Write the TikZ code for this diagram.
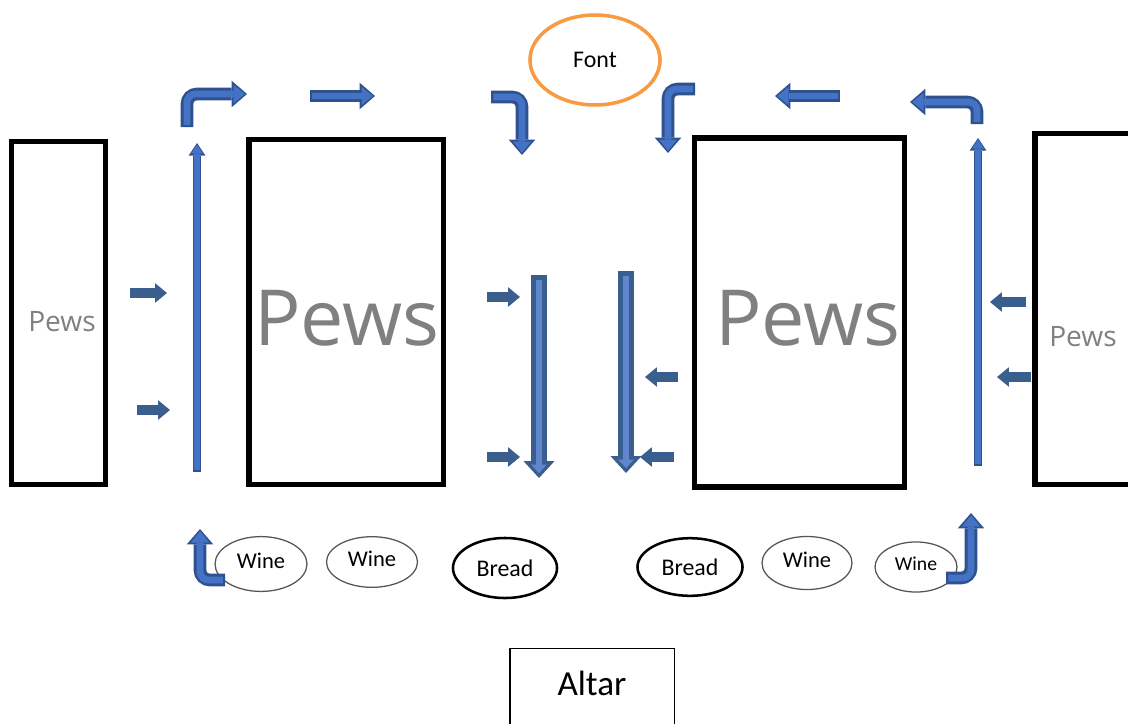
\documentclass[tikz,border=0pt]{standalone}
\usepackage{fontspec}
\setmainfont{Carlito}
\newfontfamily\pewfont{Open Sans}
\usetikzlibrary{arrows.meta,shapes.geometric}

\definecolor{arrowblue}{HTML}{4472C4}
\definecolor{arrowedge}{HTML}{2F528F}
\definecolor{arrowdark}{HTML}{3A5F8F}
\definecolor{fontorange}{HTML}{F79A42}
\definecolor{pewgray}{HTML}{808080}
\definecolor{winegray}{HTML}{555555}

\tikzset{
  pew/.style={draw=black, line width=3.6pt, inner sep=0pt},
  pewlabel/.style={text=pewgray, inner sep=0pt, font=\pewfont\fontsize{#1}{#1}\selectfont},
  bowl/.style={ellipse, draw, inner sep=0pt},
  wine/.style={bowl, draw=winegray, line width=0.9pt, text depth=5pt, font=\fontsize{16}{19}\selectfont},
  bread/.style={bowl, line width=1.8pt, font=\fontsize{17}{20}\selectfont},
  bendedge/.style={draw=arrowedge, line width=9pt, rounded corners=7pt,
    -{Triangle[width=19pt,length=11pt,line width'=0pt]}},
  bendfill/.style={draw=arrowblue, line width=4.8pt, rounded corners=6pt,
    shorten <=1.6pt, shorten >=1.6pt,
    -{Triangle[width=13pt,length=8pt,line width'=0pt]}},
  upedge/.style={draw=arrowedge, line width=6pt,
    -{Triangle[width=12pt,length=9pt,line width'=0pt]}},
  upfill/.style={draw=arrowblue, line width=3.8pt,
    shorten <=1.1pt, shorten >=1.1pt,
    -{Triangle[width=8.5pt,length=6.5pt,line width'=0pt]}},
  downedge/.style={draw=arrowdark, line width=11.4pt,
    -{Triangle[width=22pt,length=12pt,line width'=0pt]}},
  downfill/.style={draw=arrowblue!85!white, line width=4.3pt,
    shorten <=3.5pt, shorten >=3.5pt,
    -{Triangle[width=11pt,length=6pt,line width'=0pt]}},
  smallarrow/.style={draw=arrowdark, line width=7pt,
    -{Triangle[width=14pt,length=8.5pt,line width'=0pt]}},
}

\begin{document}
\begin{tikzpicture}[x=0.025cm, y=-0.025cm]
  % page
  \clip (0,0) rectangle (1128,723);

  % pews
  \node[pew, minimum width=66.2pt, minimum height=243.3pt] (pewsA) at (58.5,313) {};
  \node[pew, minimum width=138pt, minimum height=244.7pt] (pewsB) at (346,312) {};
  \node[pew, minimum width=148.7pt, minimum height=248.2pt] (pewsC) at (799.5,312.5) {};
  \node[pew, minimum width=74.7pt, minimum height=249pt] (pewsD) at (1087.5,309) {};
  % pew labels
  \node[pewlabel=20] (pewsAtext) at (62,322) {Pews};
  \node[pewlabel=55] (pewsBtext) at (347,318) {Pews};
  \node[pewlabel=55] (pewsCtext) at (808,318) {Pews};
  \node[pewlabel=20] (pewsDtext) at (1083,337) {Pews};

  % font
  \node[bowl, draw=fontorange, line width=2.5pt, minimum width=92.5pt, minimum height=64pt,
    font=\fontsize{17}{20}\selectfont] (fontbowl) at (595,60) {Font};

  % altar
  \node[draw, line width=0.8pt, minimum width=116.7pt, minimum height=58pt] (altar) at (592,689) {};
  \node[font=\fontsize{25}{30}\selectfont, inner sep=0pt] (altartext) at (592,683) {Altar};

  % stations
  \node[wine, minimum width=65.4pt, minimum height=39pt] (wineA) at (261,564) {Wine};
  \node[wine, minimum width=64.7pt, minimum height=36pt] (wineB) at (372,562) {Wine};
  \node[bread, minimum width=74pt, minimum height=42.7pt] (breadA) at (505,568) {Bread};
  \node[bread, minimum width=74.7pt, minimum height=41pt] (breadB) at (690,567) {Bread};
  \node[wine, minimum width=64pt, minimum height=37.7pt] (wineC) at (807,563) {Wine};
  \node[wine, minimum width=58.3pt, minimum height=35.6pt, font=\fontsize{14}{17}\selectfont] (wineD) at (916,567) {Wine};

  % bent arrows
  \draw[bendedge] (187,127) -- (187,94) -- (247,94);
  \draw[bendfill] (187,127) -- (187,94) -- (247,94);
  \draw[bendedge] (491,97) -- (522,97) -- (522,155);
  \draw[bendfill] (491,97) -- (522,97) -- (522,155);
  \draw[bendedge] (695,89) -- (668,89) -- (668,153);
  \draw[bendfill] (695,89) -- (668,89) -- (668,153);
  \draw[bendedge] (977,124) -- (977,102) -- (910,102);
  \draw[bendfill] (977,124) -- (977,102) -- (910,102);
  \draw[bendedge] (225,580) -- (200,580) -- (200,529);
  \draw[bendfill] (225,580) -- (200,580) -- (200,529);
  \draw[bendedge] (946,578) -- (971,578) -- (971,513);
  \draw[bendfill] (946,578) -- (971,578) -- (971,513);

  % straight top arrows
  \draw[bendedge] (310,96) -- (375,96);
  \draw[bendfill] (310,96) -- (375,96);
  \draw[bendedge] (840,96) -- (775,96);
  \draw[bendfill] (840,96) -- (775,96);

  % side aisles
  \draw[upedge] (197,472) -- (197,143);
  \draw[upfill] (197,472) -- (197,143);
  \draw[upedge] (978,466) -- (978,138);
  \draw[upfill] (978,466) -- (978,138);

  % centre aisle
  \draw[downedge] (539,275) -- (539,478);
  \draw[downfill] (539,275) -- (539,478);
  \draw[downedge] (626,271) -- (626,473);
  \draw[downfill] (626,271) -- (626,473);

  % small arrows
  \draw[smallarrow] (130,293) -- (167,293);
  \draw[smallarrow] (137,410) -- (170,410);
  \draw[smallarrow] (487,297) -- (520,297);
  \draw[smallarrow] (487,457) -- (520,457);
  \draw[smallarrow] (678,377) -- (645,377);
  \draw[smallarrow] (674,457) -- (640,457);
  \draw[smallarrow] (1026,302) -- (990,302);
  \draw[smallarrow] (1031,377) -- (997,377);
\end{tikzpicture}
\end{document}
